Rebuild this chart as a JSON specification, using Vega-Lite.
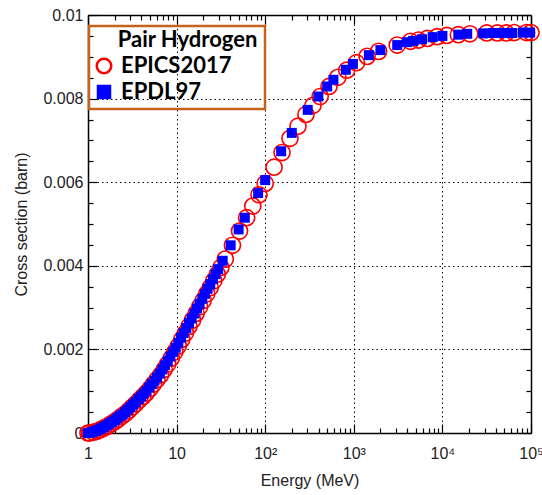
{
"$schema": "https://vega.github.io/schema/vega-lite/v6.json",
"width": 443, "height": 418,
"autosize": {"type": "none"},
"padding": {"left": 88, "top": 15, "right": 11, "bottom": 62},
"config": {"view": {"stroke": null},
 "legend": {"strokeWidth": 2.5},
 "axis": {"labelFont": "Liberation Sans", "titleFont": "Liberation Sans", "labelFontSize": 16, "titleFontSize": 16, "titleFontWeight": "normal", "labelColor": "#222", "titleColor": "#222", "domainColor": "black", "tickColor": "black", "gridColor": "black", "gridDash": [1.5, 3], "domainWidth": 1.5, "tickWidth": 1.2}},
"datasets": {"d": [
{"source":"EPICS2017","energy":1.0,"xs":0},
{"source":"EPICS2017","energy":1.047,"xs":0},
{"source":"EPICS2017","energy":1.148,"xs":0.00002},
{"source":"EPICS2017","energy":1.259,"xs":0.00004},
{"source":"EPICS2017","energy":1.380,"xs":0.00008},
{"source":"EPICS2017","energy":1.514,"xs":0.00012},
{"source":"EPICS2017","energy":1.660,"xs":0.00016},
{"source":"EPICS2017","energy":1.820,"xs":0.00022},
{"source":"EPICS2017","energy":1.995,"xs":0.00027},
{"source":"EPICS2017","energy":2.188,"xs":0.00033},
{"source":"EPICS2017","energy":2.399,"xs":0.00040},
{"source":"EPICS2017","energy":2.630,"xs":0.00046},
{"source":"EPICS2017","energy":2.884,"xs":0.00054},
{"source":"EPICS2017","energy":3.162,"xs":0.00062},
{"source":"EPICS2017","energy":3.467,"xs":0.00070},
{"source":"EPICS2017","energy":3.802,"xs":0.00079},
{"source":"EPICS2017","energy":4.169,"xs":0.00087},
{"source":"EPICS2017","energy":4.571,"xs":0.00096},
{"source":"EPICS2017","energy":5.012,"xs":0.00106},
{"source":"EPICS2017","energy":5.495,"xs":0.00117},
{"source":"EPICS2017","energy":6.026,"xs":0.00128},
{"source":"EPICS2017","energy":6.607,"xs":0.00139},
{"source":"EPICS2017","energy":7.244,"xs":0.00152},
{"source":"EPICS2017","energy":7.943,"xs":0.00165},
{"source":"EPICS2017","energy":8.710,"xs":0.00179},
{"source":"EPICS2017","energy":9.550,"xs":0.00194},
{"source":"EPICS2017","energy":10.47,"xs":0.00208},
{"source":"EPICS2017","energy":11.48,"xs":0.00224},
{"source":"EPICS2017","energy":12.59,"xs":0.00239},
{"source":"EPICS2017","energy":13.80,"xs":0.00255},
{"source":"EPICS2017","energy":15.14,"xs":0.00270},
{"source":"EPICS2017","energy":16.60,"xs":0.00286},
{"source":"EPICS2017","energy":18.20,"xs":0.00302},
{"source":"EPICS2017","energy":19.95,"xs":0.00317},
{"source":"EPICS2017","energy":21.88,"xs":0.00333},
{"source":"EPICS2017","energy":23.99,"xs":0.00348},
{"source":"EPICS2017","energy":26.30,"xs":0.00364},
{"source":"EPICS2017","energy":28.84,"xs":0.00380},
{"source":"EPICS2017","energy":31.62,"xs":0.00396},
{"source":"EPICS2017","energy":35.48,"xs":0.00416},
{"source":"EPICS2017","energy":42.66,"xs":0.00449},
{"source":"EPICS2017","energy":51.29,"xs":0.00483},
{"source":"EPICS2017","energy":61.66,"xs":0.00515},
{"source":"EPICS2017","energy":72.44,"xs":0.00543},
{"source":"EPICS2017","energy":85.11,"xs":0.00570},
{"source":"EPICS2017","energy":100,"xs":0.00597},
{"source":"EPICS2017","energy":125.9,"xs":0.00636},
{"source":"EPICS2017","energy":154.9,"xs":0.00671},
{"source":"EPICS2017","energy":190.5,"xs":0.00705},
{"source":"EPICS2017","energy":234.4,"xs":0.00734},
{"source":"EPICS2017","energy":288.4,"xs":0.00762},
{"source":"EPICS2017","energy":346.7,"xs":0.00784},
{"source":"EPICS2017","energy":416.9,"xs":0.00805},
{"source":"EPICS2017","energy":524.8,"xs":0.00829},
{"source":"EPICS2017","energy":660.7,"xs":0.00851},
{"source":"EPICS2017","energy":831.8,"xs":0.00868},
{"source":"EPICS2017","energy":1072,"xs":0.00886},
{"source":"EPICS2017","energy":1413,"xs":0.00901},
{"source":"EPICS2017","energy":1905,"xs":0.00913},
{"source":"EPICS2017","energy":3090,"xs":0.00928},
{"source":"EPICS2017","energy":4365,"xs":0.00937},
{"source":"EPICS2017","energy":5370,"xs":0.00940},
{"source":"EPICS2017","energy":6761,"xs":0.00944},
{"source":"EPICS2017","energy":8710,"xs":0.00948},
{"source":"EPICS2017","energy":11220,"xs":0.00951},
{"source":"EPICS2017","energy":15140,"xs":0.00953},
{"source":"EPICS2017","energy":20420,"xs":0.00955},
{"source":"EPICS2017","energy":31620,"xs":0.00957},
{"source":"EPICS2017","energy":41690,"xs":0.00957},
{"source":"EPICS2017","energy":52480,"xs":0.00957},
{"source":"EPICS2017","energy":64570,"xs":0.00958},
{"source":"EPICS2017","energy":89130,"xs":0.00958},
{"source":"EPICS2017","energy":100000,"xs":0.00958},
{"source":"EPDL97","energy":1.000,"xs":0},
{"source":"EPDL97","energy":1.072,"xs":0.00001},
{"source":"EPDL97","energy":1.148,"xs":0.00003},
{"source":"EPDL97","energy":1.230,"xs":0.00005},
{"source":"EPDL97","energy":1.318,"xs":0.00008},
{"source":"EPDL97","energy":1.413,"xs":0.00011},
{"source":"EPDL97","energy":1.514,"xs":0.00014},
{"source":"EPDL97","energy":1.622,"xs":0.00018},
{"source":"EPDL97","energy":1.738,"xs":0.00022},
{"source":"EPDL97","energy":1.862,"xs":0.00026},
{"source":"EPDL97","energy":1.995,"xs":0.00030},
{"source":"EPDL97","energy":2.138,"xs":0.00035},
{"source":"EPDL97","energy":2.291,"xs":0.00040},
{"source":"EPDL97","energy":2.455,"xs":0.00044},
{"source":"EPDL97","energy":2.630,"xs":0.00050},
{"source":"EPDL97","energy":2.818,"xs":0.00056},
{"source":"EPDL97","energy":3.020,"xs":0.00062},
{"source":"EPDL97","energy":3.236,"xs":0.00068},
{"source":"EPDL97","energy":3.467,"xs":0.00074},
{"source":"EPDL97","energy":3.715,"xs":0.00081},
{"source":"EPDL97","energy":3.981,"xs":0.00087},
{"source":"EPDL97","energy":4.266,"xs":0.00094},
{"source":"EPDL97","energy":4.571,"xs":0.00101},
{"source":"EPDL97","energy":4.898,"xs":0.00109},
{"source":"EPDL97","energy":5.248,"xs":0.00117},
{"source":"EPDL97","energy":5.623,"xs":0.00125},
{"source":"EPDL97","energy":6.026,"xs":0.00133},
{"source":"EPDL97","energy":6.457,"xs":0.00142},
{"source":"EPDL97","energy":6.918,"xs":0.00152},
{"source":"EPDL97","energy":7.413,"xs":0.00162},
{"source":"EPDL97","energy":7.943,"xs":0.00172},
{"source":"EPDL97","energy":8.511,"xs":0.00183},
{"source":"EPDL97","energy":9.120,"xs":0.00194},
{"source":"EPDL97","energy":9.772,"xs":0.00204},
{"source":"EPDL97","energy":10.47,"xs":0.00216},
{"source":"EPDL97","energy":11.22,"xs":0.00228},
{"source":"EPDL97","energy":12.02,"xs":0.00239},
{"source":"EPDL97","energy":12.88,"xs":0.00251},
{"source":"EPDL97","energy":13.80,"xs":0.00263},
{"source":"EPDL97","energy":14.79,"xs":0.00274},
{"source":"EPDL97","energy":15.85,"xs":0.00286},
{"source":"EPDL97","energy":16.98,"xs":0.00298},
{"source":"EPDL97","energy":18.20,"xs":0.00309},
{"source":"EPDL97","energy":19.50,"xs":0.00321},
{"source":"EPDL97","energy":20.89,"xs":0.00333},
{"source":"EPDL97","energy":22.39,"xs":0.00345},
{"source":"EPDL97","energy":23.99,"xs":0.00356},
{"source":"EPDL97","energy":25.70,"xs":0.00368},
{"source":"EPDL97","energy":27.54,"xs":0.00380},
{"source":"EPDL97","energy":29.51,"xs":0.00392},
{"source":"EPDL97","energy":33.11,"xs":0.00412},
{"source":"EPDL97","energy":40.74,"xs":0.00449},
{"source":"EPDL97","energy":50.12,"xs":0.00487},
{"source":"EPDL97","energy":58.88,"xs":0.00515},
{"source":"EPDL97","energy":83.18,"xs":0.00574},
{"source":"EPDL97","energy":100,"xs":0.00605},
{"source":"EPDL97","energy":151.4,"xs":0.00674},
{"source":"EPDL97","energy":199.5,"xs":0.00718},
{"source":"EPDL97","energy":302,"xs":0.00773},
{"source":"EPDL97","energy":398.1,"xs":0.00805},
{"source":"EPDL97","energy":501.2,"xs":0.00829},
{"source":"EPDL97","energy":588.8,"xs":0.00845},
{"source":"EPDL97","energy":812.8,"xs":0.00869},
{"source":"EPDL97","energy":977.2,"xs":0.00883},
{"source":"EPDL97","energy":1479,"xs":0.00904},
{"source":"EPDL97","energy":1995,"xs":0.00916},
{"source":"EPDL97","energy":3090,"xs":0.00928},
{"source":"EPDL97","energy":3981,"xs":0.00935},
{"source":"EPDL97","energy":4677,"xs":0.00938},
{"source":"EPDL97","energy":5888,"xs":0.00942},
{"source":"EPDL97","energy":7762,"xs":0.00947},
{"source":"EPDL97","energy":10000,"xs":0.00950},
{"source":"EPDL97","energy":15140,"xs":0.00953},
{"source":"EPDL97","energy":19050,"xs":0.00955},
{"source":"EPDL97","energy":28840,"xs":0.00956},
{"source":"EPDL97","energy":37150,"xs":0.00957},
{"source":"EPDL97","energy":44670,"xs":0.00957},
{"source":"EPDL97","energy":52480,"xs":0.00957},
{"source":"EPDL97","energy":61660,"xs":0.00957},
{"source":"EPDL97","energy":81280,"xs":0.00958},
{"source":"EPDL97","energy":97720,"xs":0.00958}
]},
"layer": [
 {"data": {"name": "d"},
  "mark": {"type": "point", "filled": true, "opacity": 1, "strokeWidth": 1.6},
  "encoding": {
   "x": {"field": "energy", "type": "quantitative", "scale": {"type": "log", "domain": [1, 100000], "nice": false},
     "axis": {"orient": "bottom", "title": "Energy (MeV)", "values": [1, 10, 100, 1000, 10000, 100000],
       "labelExpr": "datum.value==1?'1':datum.value==10?'10':datum.value==100?'10²':datum.value==1000?'10³':datum.value==10000?'10⁴':'10⁵'",
       "tickSize": -9, "labelPadding": 21, "titlePadding": 11, "grid": true, "labelFlush": false, "labelOverlap": false}},
   "y": {"field": "xs", "type": "quantitative", "scale": {"domain": [0, 0.01], "nice": false, "zero": false},
     "axis": {"orient": "left", "title": "Cross section (barn)", "values": [0, 0.002, 0.004, 0.006, 0.008, 0.01],
       "labelExpr": "datum.value==0?'0':format(datum.value,'.3~f')",
       "tickSize": -9, "labelPadding": 14, "titlePadding": 13, "grid": true, "labelFlush": false, "labelOverlap": false}},
   "shape": {"field": "source", "type": "nominal", "scale": {"domain": ["EPICS2017", "EPDL97"], "range": ["circle", "square"]},
     "legend": {"title": "\u200b\u2003\u2009\u2009\u2009Pair Hydrogen\u2009\u200b", "orient": "none", "legendX": 1, "legendY": 11,
       "titleFont": "Lato", "titleFontSize": 22, "titleFontWeight": "bold", "titleColor": "black", "titlePadding": 3,
       "labelFont": "Lato", "labelFontSize": 22, "labelFontWeight": "bold", "labelColor": "black", "labelOffset": 6,
       "symbolSize": 210, "symbolStrokeWidth": 2.5, "rowPadding": 0, "padding": 4,
       "strokeColor": "#c5621c", "cornerRadius": 0}},
   "fill": {"field": "source", "type": "nominal", "scale": {"domain": ["EPICS2017", "EPDL97"], "range": ["transparent", "#0000ff"]}},
   "stroke": {"field": "source", "type": "nominal", "scale": {"domain": ["EPICS2017", "EPDL97"], "range": ["#ff0000", "transparent"]}},
   "size": {"condition": {"test": "datum.source == 'EPDL97'", "value": 100}, "value": 260}
  }},
 {"data": {"name": "d"},
  "mark": {"type": "point", "opacity": 0},
  "encoding": {
   "x": {"field": "energy", "type": "quantitative", "scale": {"type": "log", "domain": [1, 100000], "nice": false},
     "axis": {"orient": "bottom", "title": null, "labels": false, "domain": false, "grid": false, "tickSize": -5,
       "values": [2,3,4,5,6,7,8,9,20,30,40,50,60,70,80,90,200,300,400,500,600,700,800,900,2000,3000,4000,5000,6000,7000,8000,9000,20000,30000,40000,50000,60000,70000,80000,90000]}},
   "y": {"field": "xs", "type": "quantitative", "scale": {"domain": [0, 0.01], "nice": false, "zero": false},
     "axis": {"orient": "left", "title": null, "labels": false, "domain": false, "grid": false, "tickSize": -5,
       "values": [0.0005,0.001,0.0015,0.0025,0.003,0.0035,0.0045,0.005,0.0055,0.0065,0.007,0.0075,0.0085,0.009,0.0095]}}
  }},
 {"data": {"name": "d"},
  "mark": {"type": "point", "opacity": 0},
  "encoding": {
   "x": {"field": "energy", "type": "quantitative", "scale": {"type": "log", "domain": [1, 100000], "nice": false},
     "axis": {"orient": "top", "title": null, "labels": false, "grid": false, "tickSize": -9, "values": [1, 10, 100, 1000, 10000, 100000]}},
   "y": {"field": "xs", "type": "quantitative", "scale": {"domain": [0, 0.01], "nice": false, "zero": false},
     "axis": {"orient": "right", "title": null, "labels": false, "grid": false, "tickSize": -9, "values": [0, 0.002, 0.004, 0.006, 0.008, 0.01]}}
  }},
 {"data": {"name": "d"},
  "mark": {"type": "point", "opacity": 0},
  "encoding": {
   "x": {"field": "energy", "type": "quantitative", "scale": {"type": "log", "domain": [1, 100000], "nice": false},
     "axis": {"orient": "top", "title": null, "labels": false, "domain": false, "grid": false, "tickSize": -5,
       "values": [2,3,4,5,6,7,8,9,20,30,40,50,60,70,80,90,200,300,400,500,600,700,800,900,2000,3000,4000,5000,6000,7000,8000,9000,20000,30000,40000,50000,60000,70000,80000,90000]}},
   "y": {"field": "xs", "type": "quantitative", "scale": {"domain": [0, 0.01], "nice": false, "zero": false},
     "axis": {"orient": "right", "title": null, "labels": false, "domain": false, "grid": false, "tickSize": -5,
       "values": [0.0005,0.001,0.0015,0.0025,0.003,0.0035,0.0045,0.005,0.0055,0.0065,0.007,0.0075,0.0085,0.009,0.0095]}}
  }}
],
"resolve": {"axis": {"x": "independent", "y": "independent"}}
}
